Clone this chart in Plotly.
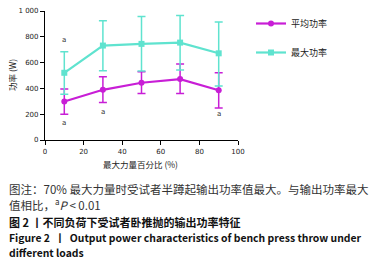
import plotly.graph_objects as go

# ---- data ----
load_pct = [10, 30, 50, 70, 90]
mean_power = [299, 389, 444, 472, 386]
mean_err_plus = [96, 101, 85, 117, 135]
mean_err_minus = [100, 98, 83, 111, 137]
peak_power = [521, 732, 745, 755, 672]
peak_err_plus = [164, 192, 212, 210, 242]
peak_err_minus = [166, 195, 210, 213, 254]
sig_x = [10, 10, 30, 90]
sig_y = [778, 128, 216, 198]
y_ticks = [0, 200, 400, 600, 800, 1000]
y_ticktext = ["0", "200", "400", "600", "800", "1 000"]
x_ticks = [0, 20, 40, 60, 80, 100]
x_ticktext = ["0", "20", "40", "60", "80", "100"]

PURPLE = "#C81ED6"
CYAN = "#5FE3CF"
CJK = "Noto Sans CJK SC"

fig = go.Figure()
fig.add_trace(go.Scatter(
    x=load_pct, y=mean_power, name="平均功率", mode="lines+markers",
    line=dict(color=PURPLE, width=2.2), marker=dict(symbol="circle", size=6, color=PURPLE),
    error_y=dict(type="data", symmetric=False, array=mean_err_plus, arrayminus=mean_err_minus,
                 color=PURPLE, thickness=1.5, width=4),
    legendgroup="a"))
fig.add_trace(go.Scatter(
    x=load_pct, y=peak_power, name="最大功率", mode="lines+markers",
    line=dict(color=CYAN, width=2.2), marker=dict(symbol="square", size=6, color=CYAN),
    error_y=dict(type="data", symmetric=False, array=peak_err_plus, arrayminus=peak_err_minus,
                 color=CYAN, thickness=1.5, width=4),
    legendgroup="b"))

for sx, sy in zip(sig_x, sig_y):
    fig.add_annotation(x=sx, y=sy, text="a", showarrow=False,
                       font=dict(family="DejaVu Sans", size=7, color="#333"))

W, H = 378, 263
L, R, T, B = 45, 140, 11, 123
pw, ph = W - L - R, H - T - B

def px(x):
    return (x - L) / pw

def py(y):
    return (H - B - y) / ph

# axis titles
fig.add_annotation(xref="paper", yref="paper", x=px(140), y=py(164), text="最大力量百分比 (%)",
                   showarrow=False, xanchor="center", yanchor="middle",
                   font=dict(family=CJK, size=8.5, color="#222"))
fig.add_annotation(xref="paper", yref="paper", x=px(12), y=py(75), text="功率 (W)", textangle=-90,
                   showarrow=False, xanchor="center", yanchor="middle",
                   font=dict(family=CJK, size=8.5, color="#222"))

captions = [
    (189, "图注：70% 最大力量时受试者半蹲起输出功率值最大。与输出功率最大", "#333", False, 11.5),
    (204, "值相比，<sup>a</sup><i>P</i> &lt; 0.01", "#333", False, 11.5),
    (222, "图 2 丨不同负荷下受试者卧推抛的输出功率特征", "#111", True, 11),
    (237, "Figure 2  丨  Output power characteristics of bench press throw under", "#111", True, 10.4),
    (252, "different loads", "#111", True, 10.4),
]
for cy, txt, col, bold, fs in captions:
    fig.add_annotation(xref="paper", yref="paper", x=px(7), y=py(cy), xanchor="left", yanchor="middle",
                       text=("<b>" + txt + "</b>") if bold else txt, showarrow=False,
                       font=dict(family=CJK, size=fs, color=col))

axis_common = dict(showline=True, linecolor="black", linewidth=1.2, ticks="outside",
                   ticklen=4, tickwidth=1, tickcolor="black", showgrid=False, zeroline=False,
                   automargin=False, ticklabeloverflow="allow",
                   tickfont=dict(family="DejaVu Sans", size=7, color="#222"))

fig.update_layout(
    width=W, height=H, margin=dict(l=L, r=R, t=T, b=B, autoexpand=False),
    paper_bgcolor="white", plot_bgcolor="white",
    xaxis=dict(range=[0, 100], tickmode="array", tickvals=x_ticks, ticktext=x_ticktext, **axis_common),
    yaxis=dict(range=[0, 1000], tickmode="array", tickvals=y_ticks, ticktext=y_ticktext, **axis_common),
    legend=dict(x=px(251), y=py(9), xanchor="left", yanchor="top", tracegroupgap=10,
                font=dict(family=CJK, size=9, color="#222"), itemwidth=30, bgcolor="rgba(0,0,0,0)"),
    showlegend=True,
)

fig.write_html("out.html", config={"displayModeBar": False},
               post_script="document.body.style.margin='0';document.body.style.overflow='hidden';")
